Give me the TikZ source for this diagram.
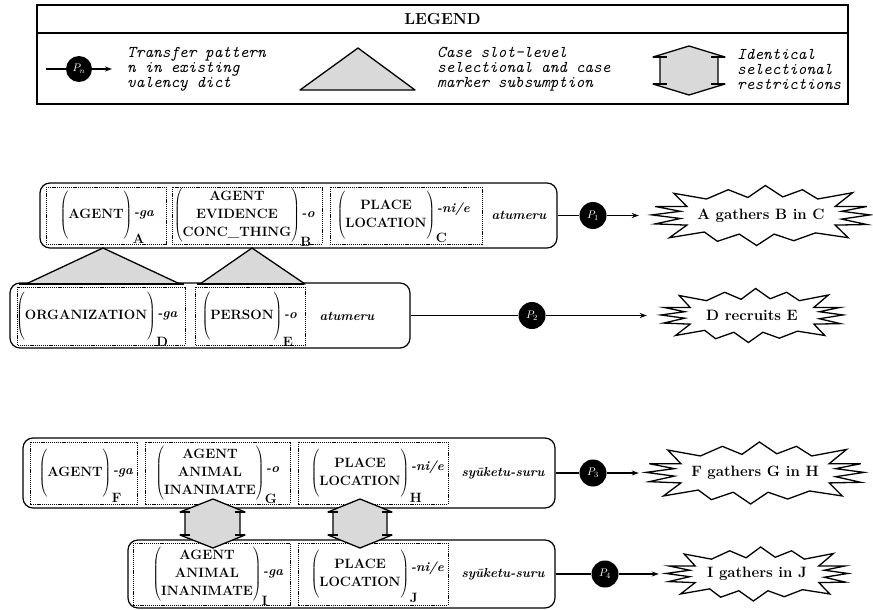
\documentclass[tikz,border=0pt]{standalone}
\usetikzlibrary{arrows.meta}
\newcommand\mygrp[2]{$\left(\vcenter{\hbox{\rule{0pt}{#1}}}\vcenter{\hbox{\begin{tabular}{@{}c@{}}#2\end{tabular}}}\right)$}
\newcommand\myhexa[8]{%
  \draw[stip] (#1,#4) -- ({#3+#8},#5) -- (#3,#5) -- (#3,#6) -- ({#3+#8},#6) -- (#1,#7) -- ({#2-#8},#6) -- (#2,#6) -- (#2,#5) -- ({#2-#8},#5) -- cycle;
  \draw[line width=1.2pt] ({#2-#8},#5) -- ({#2+#8},#5) ({#2-#8},#6) -- ({#2+#8},#6) ({#3-#8},#5) -- ({#3+#8},#5) ({#3-#8},#6) -- ({#3+#8},#6);
}
\newcommand\myburst[5]{%
  \draw[burst, shift={(#2)}, x=#3pt, y=#4pt] (-1,0.02) -- (-0.74,0.14) -- (-0.97,0.3) -- (-0.68,0.3) -- (-0.8,0.74) -- (-0.5,0.55) -- (-0.3,0.86) -- (-0.12,0.6) -- (0.04,1) -- (0.2,0.62) -- (0.38,0.86) -- (0.52,0.55) -- (0.84,0.76) -- (0.68,0.3) -- (0.97,0.3) -- (0.74,0.14) -- (1,0.02) -- (0.74,-0.12) -- (0.97,-0.3) -- (0.68,-0.32) -- (0.8,-0.74) -- (0.5,-0.58) -- (0.3,-0.84) -- (0.12,-0.62) -- (-0.04,-1) -- (-0.2,-0.62) -- (-0.4,-0.86) -- (-0.52,-0.55) -- (-0.84,-0.74) -- (-0.68,-0.32) -- (-0.97,-0.28) -- (-0.74,-0.1) -- cycle;
  \node[bursttext, minimum width={2*#3pt}, minimum height={2*#4pt}] (#1) at (#2) {#5};
}
\tikzset{
  outer/.style={draw, line width=1.2pt, rounded corners=10pt, inner sep=0pt},
  slotbox/.style={draw, line width=0.7pt, dash pattern=on 1.2pt off 0.9pt},
  wordgrp/.style={inner sep=0pt, font=\fontsize{13.5}{18}\selectfont\bfseries},
  marker/.style={inner sep=0pt, anchor=west, font=\fontsize{13}{14}\selectfont\bfseries\itshape},
  subl/.style={inner sep=0pt, anchor=south west, font=\fontsize{13.5}{14}\selectfont\bfseries},
  verb/.style={inner sep=0pt, font=\fontsize{13}{14}\selectfont\bfseries\itshape},
  pat/.style={circle, fill=black, minimum size=27pt, inner sep=0pt, text=white, font=\fontsize{11}{11}\selectfont},
  link/.style={line width=1.3pt},
  arr/.style={line width=1.3pt, -{Stealth[length=7pt,width=5pt]}},
  burst/.style={line width=1.3pt, fill=white, line join=miter},
  bursttext/.style={inner sep=0pt, font=\fontsize{15}{16}\selectfont\bfseries},
  stip/.style={fill=black!15, draw, line width=1.3pt, line join=round},
  legtext/.style={anchor=west, align=left, inner sep=0pt, font=\fontsize{16.5}{15}\selectfont\ttfamily\itshape},
  legtitle/.style={inner sep=0pt, font=\fontsize{16}{18}\selectfont\bfseries},
}
\begin{document}
\begin{tikzpicture}[x=1pt, y=-1pt]
\useasboundingbox (0,0) rectangle (873,610);
% ---------------- legend
\node[draw, line width=1.3pt, inner sep=0pt, minimum width=811pt, minimum height=99pt] (leg) at (442.5,54.5) {};
\draw[line width=1.3pt] (leg.north west |- 0,33) -- (leg.north east |- 0,33);
\node[legtitle] (legt) at (442.5,19) {LEGEND};
\node[pat, minimum size=26pt] (pl) at (79,69) {$P_n$};
\coordinate (la0) at (46,69);
\coordinate (la1) at (112,69);
\draw[link] (la0) -- (pl);
\draw[arr] (pl) -- (la1);
\node[legtext] (lt1) at (127,69) {Transfer pattern\\n in existing\\valency dict};
\draw[stip] (358,48) -- (415,90) -- (300,90) -- cycle;
\node[legtext] (lt2) at (437,69) {Case slot-level\\selectional and case\\marker subsumption};
\myhexa{689}{660}{718}{46}{57}{84}{95}{7}
\node[legtext] (lt3) at (737,69) {Identical\\selectional\\restrictions};
% ---------------- row 1
\node[outer, minimum width=517pt, minimum height=65pt] (b1) at (298.5,215.5) {};
\draw[slotbox] (46,187) rectangle (166,244);
\draw[slotbox] (172,187) rectangle (322,244);
\draw[slotbox] (330,187) rectangle (482,244);
\node[wordgrp] (ga) at (96,215) {\mygrp{47pt}{AGENT}};
\node[marker] (ma) at ([xshift=1pt]ga.east) {-ga};
\node[subl] (sa) at ([xshift=0pt,yshift=-4pt]ga.south east) {A};
\node[wordgrp] (gb) at (237,215) {\mygrp{47pt}{AGENT\\EVIDENCE\\CONC\_THING}};
\node[marker] (mb) at ([xshift=1pt]gb.east) {-o};
\node[subl] (sb) at ([xshift=0pt,yshift=-4pt]gb.south east) {B};
\node[wordgrp] (gc) at (386,215) {\mygrp{47pt}{PLACE\\LOCATION}};
\node[marker] (mc) at ([xshift=1pt,yshift=6pt]gc.east) {-ni/e};
\node[subl] (sc) at ([xshift=0pt,yshift=-4pt]gc.south east) {C};
\node[verb] (v1) at (519,215) {atumeru};
% ---------------- row 2
\node[outer, minimum width=400pt, minimum height=65pt] (b2) at (210,315.5) {};
\draw[slotbox] (17,287) rectangle (185,345);
\draw[slotbox] (195,287) rectangle (305,345);
\node[wordgrp] (gd) at (86,316) {\mygrp{52pt}{ORGANIZATION}};
\node[marker] (md) at ([xshift=1pt]gd.east) {-ga};
\node[subl] (sd) at ([xshift=0pt,yshift=-4pt]gd.south east) {D};
\node[wordgrp] (ge) at (242,316) {\mygrp{52pt}{PERSON}};
\node[marker] (me) at ([xshift=1pt]ge.east) {-o};
\node[subl] (se) at ([xshift=0pt,yshift=-4pt]ge.south east) {E};
\node[verb] (v2) at (347,316) {atumeru};
% subsumption triangles
\draw[stip] (103,248) -- (180,284) -- (26,284) -- cycle;
\draw[line width=2.4pt] (19,284) -- (184,284);
\draw[stip] (252,248) -- (305,284) -- (200,284) -- cycle;
\draw[line width=2.4pt] (197,284) -- (304,284);
% ---------------- row 3
\node[outer, minimum width=532pt, minimum height=70pt] (b3) at (289,473) {};
\draw[slotbox] (30,442) rectangle (137,504);
\draw[slotbox] (145,442) rectangle (290,504);
\draw[slotbox] (298,442) rectangle (448,504);
\node[wordgrp] (gf) at (75,473) {\mygrp{50pt}{AGENT}};
\node[marker] (mf) at ([xshift=1pt]gf.east) {-ga};
\node[subl] (sf) at ([xshift=0pt,yshift=-4pt]gf.south east) {F};
\node[wordgrp] (gg) at (210,473) {\mygrp{50pt}{AGENT\\ANIMAL\\INANIMATE}};
\node[marker] (mg) at ([xshift=1pt,yshift=3pt]gg.east) {-o};
\node[subl] (sg) at ([xshift=0pt,yshift=-4pt]gg.south east) {G};
\node[wordgrp] (gh) at (360,473) {\mygrp{50pt}{PLACE\\LOCATION}};
\node[marker] (mh) at ([xshift=1pt,yshift=6pt]gh.east) {-ni/e};
\node[subl] (sh) at ([xshift=0pt,yshift=-4pt]gh.south east) {H};
\node[verb] (v3) at (503,473) {syūketu-suru};
% ---------------- row 4
\node[outer, minimum width=427pt, minimum height=68pt] (b4) at (341.5,574) {};
\draw[slotbox] (133,543) rectangle (290,605);
\draw[slotbox] (298,543) rectangle (448,605);
\node[wordgrp] (gi) at (207,574) {\mygrp{50pt}{AGENT\\ANIMAL\\INANIMATE}};
\node[marker] (mi) at ([xshift=1pt]gi.east) {-ga};
\node[subl] (si) at ([xshift=0pt,yshift=-4pt]gi.south east) {I};
\node[wordgrp] (gj) at (360,574) {\mygrp{50pt}{PLACE\\LOCATION}};
\node[marker] (mj) at ([xshift=1pt,yshift=6pt]gj.east) {-ni/e};
\node[subl] (sj) at ([xshift=0pt,yshift=-4pt]gj.south east) {J};
\node[verb] (v4) at (503,574) {syūketu-suru};
% identical restriction hexagons
\myhexa{213}{185}{240}{499}{512}{535}{548}{5}
\myhexa{360}{333}{387}{499}{512}{535}{548}{5}
% ---------------- patterns and results
\node[pat] (p1) at (593,215.5) {$P_1$};
\node[pat] (p2) at (532,315.5) {$P_2$};
\node[pat] (p3) at (593,473) {$P_3$};
\node[pat] (p4) at (605,574) {$P_4$};
\myburst{s1}{761,215.5}{109}{30}{A gathers B in C}
\myburst{s2}{752,315.5}{91}{27}{D recruits E}
\myburst{s3}{755,473}{109}{31}{F gathers G in H}
\myburst{s4}{757,574}{91}{27}{I gathers in J}
\coordinate (e1) at ([xshift=-13pt]s1.west);
\coordinate (e2) at ([xshift=-14pt]s2.west);
\coordinate (e3) at ([xshift=-7pt]s3.west);
\coordinate (e4) at ([xshift=-7pt]s4.west);
\draw[link] (b1) -- (p1);
\draw[arr] (p1) -- (e1);
\draw[link] (b2) -- (p2);
\draw[arr] (p2) -- (e2);
\draw[link] (b3) -- (p3);
\draw[arr] (p3) -- (e3);
\draw[link] (b4) -- (p4);
\draw[arr] (p4) -- (e4);
\end{tikzpicture}
\end{document}
